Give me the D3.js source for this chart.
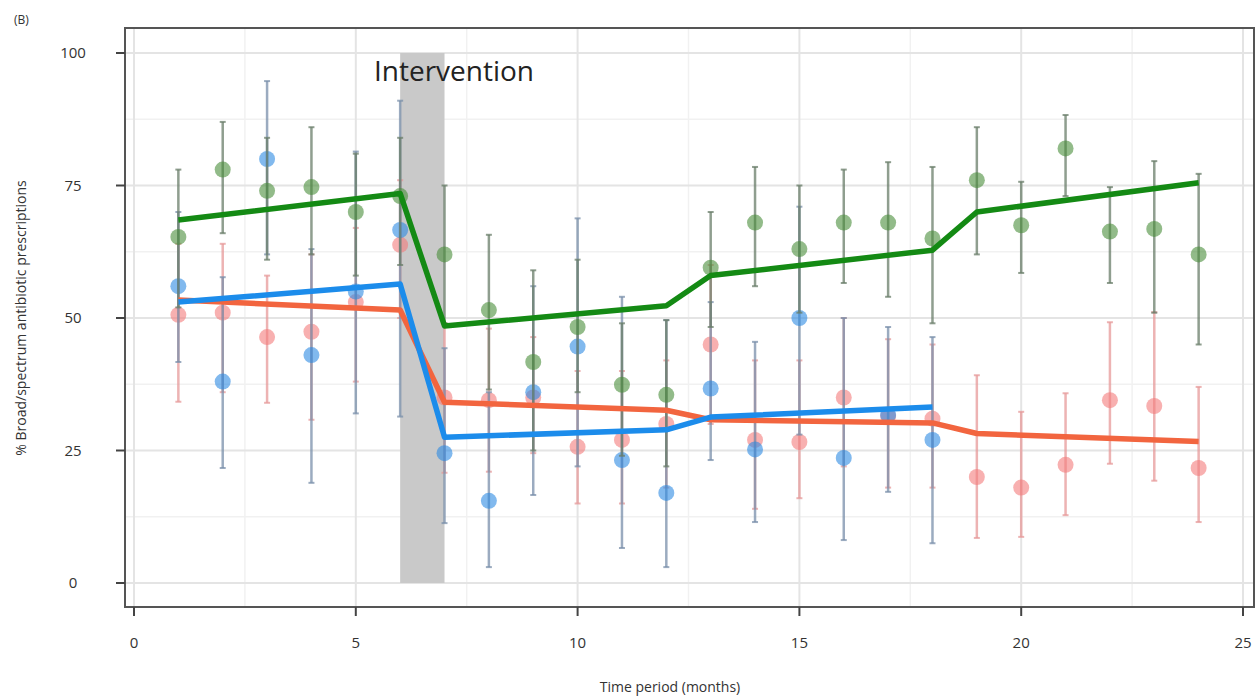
<!DOCTYPE html>
<html>
<head>
<meta charset="utf-8">
<script src="https://cdnjs.cloudflare.com/ajax/libs/d3/7.8.5/d3.min.js"></script>
<style>
body { margin:0; background:#fff; }
text { font-family:"Open Sans", sans-serif; }
</style>
</head>
<body>
<script>
// months 1..24
var months = d3.range(1,25);

// observed % with lower / upper interval, per group
var greenVal = [65.3,78,74,74.7,70,73,62,51.5,41.7,48.3,37.4,35.5,59.5,68,63,68,68,65,76,67.5,82,66.3,66.8,62];
var greenLo  = [52,66,61,62,58,60,49,36.5,25,36,24,22,48.3,56,51,56.6,54,49,62,58.5,73,56.6,51,45];
var greenHi  = [78,87,84,86,81,84,75,65.7,59,61,49,49.6,70,78.5,75,78,79.4,78.5,86,75.7,88.3,74.7,79.6,77.2];

var blueVal = [56,38,80,43,55,66.6,24.5,15.5,36,44.6,23.2,17,36.7,25.2,50,23.6,31.7,27];
var blueLo  = [41.7,21.7,62,18.9,32,31.4,11.3,3,16.6,22,6.6,3,23.2,11.5,28,8.1,17.2,7.5];
var blueHi  = [70,57.7,94.7,63,81.4,91,44.3,36,56,68.8,54,49.6,53,45.5,71,50,48.3,46.4];

var redVal = [50.6,51,46.4,47.4,53,63.8,35,34.5,35,25.7,27,30,45,27,26.6,35,31.5,31,20,18,22.3,34.5,33.4,21.7];
var redLo  = [34.2,36,34,30.8,38,50,20.8,21,24.5,15,15,18,30,14,16,22,18,18,8.5,8.7,12.8,22.5,19.3,11.5];
var redHi  = [64,64,58,62,67,76,49,48,46.4,40,40,42,60,42,42,50,46,45,39.2,32.3,35.8,49.2,51.1,37];

// fitted segmented trend (month, %)
var greenFitX = [1,6,7,12,13,18,19,24];
var greenFitY = [68.5,73.5,48.5,52.3,58,62.8,70,75.5];
var blueFitX = [1,6,7,12,13,18];
var blueFitY = [53,56.4,27.5,28.9,31.3,33.2];
var redFitX = [1,6,7,12,13,18,19,24];
var redFitY = [53.4,51.5,34.1,32.6,30.8,30.2,28.2,26.7];

var xTicks = [0,5,10,15,20,25];
var yTicks = [0,25,50,75,100];
var interventionStart = 6;
var interventionEnd = 7;

var width = 1259;
var height = 698;

var svg = d3.select("body").append("svg")
    .attr("width",width)
    .attr("height",height);

var x = d3.scaleLinear().domain([0,25]).range([134,1243]);
var y = d3.scaleLinear().domain([0,100]).range([583,53]);

var panelLeft = 125, panelRight = 1254, panelTop = 28, panelBottom = 607;

// grid
var grid = svg.append("g");
grid.selectAll(".minx").data(d3.range(2.5,25,5)).enter().append("line")
    .attr("x1",function(d){return x(d);}).attr("x2",function(d){return x(d);})
    .attr("y1",panelTop).attr("y2",panelBottom)
    .attr("stroke","#f1f1f1").attr("stroke-width",1.5);
grid.selectAll(".miny").data(d3.range(12.5,100,25)).enter().append("line")
    .attr("y1",function(d){return y(d);}).attr("y2",function(d){return y(d);})
    .attr("x1",panelLeft).attr("x2",panelRight)
    .attr("stroke","#f1f1f1").attr("stroke-width",1.5);
grid.selectAll(".majx").data(xTicks).enter().append("line")
    .attr("x1",function(d){return x(d);}).attr("x2",function(d){return x(d);})
    .attr("y1",panelTop).attr("y2",panelBottom)
    .attr("stroke","#e4e4e4").attr("stroke-width",2);
grid.selectAll(".majy").data(yTicks).enter().append("line")
    .attr("y1",function(d){return y(d);}).attr("y2",function(d){return y(d);})
    .attr("x1",panelLeft).attr("x2",panelRight)
    .attr("stroke","#e4e4e4").attr("stroke-width",2);

// intervention band
svg.append("rect")
    .attr("x",x(interventionStart))
    .attr("width",x(interventionEnd)-x(interventionStart))
    .attr("y",y(100))
    .attr("height",y(0)-y(100))
    .attr("fill","#c9c9c9");

svg.append("text")
    .attr("x",454)
    .attr("y",81)
    .attr("text-anchor","middle")
    .attr("font-size","28px")
    .attr("fill","#222")
    .text("Intervention");

// error bars + points
var drawGroup = function(vals,lo,hi,barColor,ptColor,ptOpacity)
{
  var data = vals.map(function(v,i){ return {m:months[i],v:v,lo:lo[i],hi:hi[i]}; });
  var g = svg.append("g");
  g.selectAll(".bar").data(data).enter().append("line")
      .attr("x1",function(d){return x(d.m);}).attr("x2",function(d){return x(d.m);})
      .attr("y1",function(d){return y(d.lo);}).attr("y2",function(d){return y(d.hi);})
      .attr("stroke",barColor).attr("stroke-width",2.5).attr("opacity",0.75);
  g.selectAll(".capl").data(data).enter().append("line")
      .attr("x1",function(d){return x(d.m)-3;}).attr("x2",function(d){return x(d.m)+3;})
      .attr("y1",function(d){return y(d.lo);}).attr("y2",function(d){return y(d.lo);})
      .attr("stroke",barColor).attr("stroke-width",2).attr("opacity",0.75);
  g.selectAll(".caph").data(data).enter().append("line")
      .attr("x1",function(d){return x(d.m)-3;}).attr("x2",function(d){return x(d.m)+3;})
      .attr("y1",function(d){return y(d.hi);}).attr("y2",function(d){return y(d.hi);})
      .attr("stroke",barColor).attr("stroke-width",2).attr("opacity",0.75);
  g.selectAll("circle").data(data).enter().append("circle")
      .attr("cx",function(d){return x(d.m);})
      .attr("cy",function(d){return y(d.v);})
      .attr("r",8)
      .attr("fill",ptColor)
      .attr("opacity",ptOpacity);
}

drawGroup(redVal,redLo,redHi,"#e79a9a","#f47c7c",0.6);
drawGroup(blueVal,blueLo,blueHi,"#7a90ab","#2d8ae2",0.6);
drawGroup(greenVal,greenLo,greenHi,"#6a7e6a","#4a8e3a",0.6);

// fitted lines
var line = d3.line()
    .x(function(d){return x(d[0]);})
    .y(function(d){return y(d[1]);});

var drawFit = function(xs,ys,color)
{
  svg.append("path")
      .attr("d",line(d3.zip(xs,ys)))
      .attr("fill","none")
      .attr("stroke",color)
      .attr("stroke-width",5.5)
      .attr("stroke-linejoin","round");
}
drawFit(redFitX,redFitY,"#f2653f");
drawFit(blueFitX,blueFitY,"#1c8ceb");
drawFit(greenFitX,greenFitY,"#148a14");

// panel border
svg.append("rect")
    .attr("x",panelLeft).attr("y",panelTop)
    .attr("width",panelRight-panelLeft).attr("height",panelBottom-panelTop)
    .attr("fill","none").attr("stroke","#555").attr("stroke-width",2);

// axes
var yAxis = svg.append("g");
yAxis.selectAll("line").data(yTicks).enter().append("line")
    .attr("x1",panelLeft-9).attr("x2",panelLeft)
    .attr("y1",function(d){return y(d);}).attr("y2",function(d){return y(d);})
    .attr("stroke","#444").attr("stroke-width",2);
yAxis.selectAll("text").data(yTicks).enter().append("text")
    .attr("x",73)
    .attr("y",function(d){return y(d)+5;})
    .attr("text-anchor","middle")
    .attr("font-size","15px")
    .attr("fill","#333")
    .text(function(d){return d;});

var xAxis = svg.append("g");
xAxis.selectAll("line").data(xTicks).enter().append("line")
    .attr("x1",function(d){return x(d);}).attr("x2",function(d){return x(d);})
    .attr("y1",panelBottom).attr("y2",panelBottom+9)
    .attr("stroke","#444").attr("stroke-width",2);
xAxis.selectAll("text").data(xTicks).enter().append("text")
    .attr("x",function(d){return x(d);})
    .attr("y",648)
    .attr("text-anchor","middle")
    .attr("font-size","15px")
    .attr("fill","#333")
    .text(function(d){return d;});

svg.append("text")
    .attr("x",670)
    .attr("y",692)
    .attr("text-anchor","middle")
    .attr("font-size","14px")
    .attr("fill","#333")
    .text("Time period (months)");

svg.append("text")
    .attr("transform","translate(26,318) rotate(-90)")
    .attr("text-anchor","middle")
    .attr("font-size","14px")
    .attr("fill","#333")
    .text("% Broad/spectrum antibiotic prescriptions");

svg.append("text")
    .attr("x",14)
    .attr("y",24)
    .attr("font-size","12px")
    .attr("fill","#333")
    .text("(B)");
</script>
</body>
</html>
